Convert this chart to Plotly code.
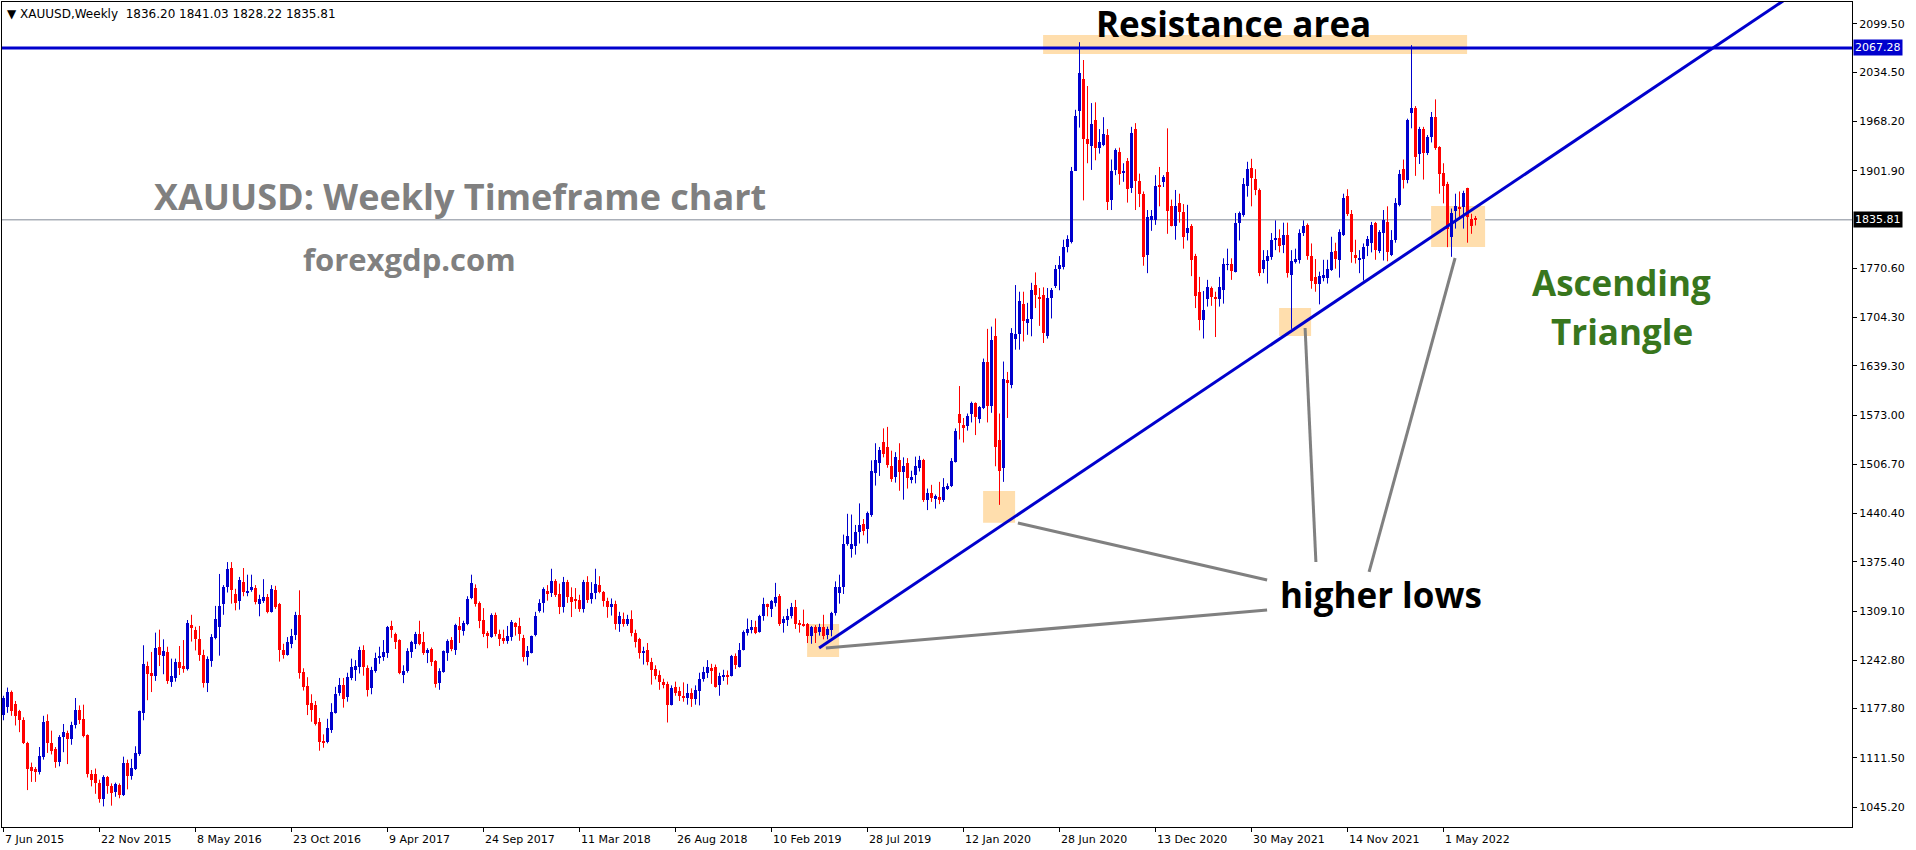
import plotly.graph_objects as go

# ---------------- data (weekly XAUUSD candles) ----------------
opens = [
1169,1180,1200,1184,1174,1162,1132,1099,1096,1093,1113,1161,1132,1123,1106,1139,1145,1137,1155,1176,
1164,1142,1090,1089,1077,1056,1086,1074,1065,1075,1061,1105,1087,1096,1117,1172,1235,1226,1222,1261,
1249,1254,1214,1219,1240,1235,1231,1290,1284,1271,1250,1212,1242,1273,1288,1319,1341,1367,1332,1322,
1348,1334,1337,1340,1319,1323,1328,1308,1337,1319,1257,1250,1265,1277,1304,1227,1208,1185,1183,1160,
1134,1133,1149,1172,1199,1209,1193,1219,1230,1234,1257,1232,1205,1228,1247,1247,1253,1289,1278,1270,
1223,1228,1254,1265,1278,1267,1253,1258,1242,1212,1227,1253,1270,1257,1289,1282,1292,1326,1340,1320,
1297,1280,1274,1304,1278,1273,1269,1274,1293,1289,1273,1247,1253,1277,1309,1320,1336,1333,1350,1332,
1315,1348,1328,1324,1324,1312,1348,1325,1333,1344,1335,1323,1314,1319,1291,1299,1292,1299,1279,1272,
1252,1256,1241,1231,1223,1214,1211,1183,1207,1201,1195,1192,1199,1191,1202,1217,1226,1233,1234,1209,
1221,1223,1222,1249,1234,1257,1279,1284,1288,1281,1302,1318,1312,1320,1330,1293,1297,1302,1314,1292,
1292,1292,1275,1287,1281,1288,1277,1283,1306,1334,1341,1400,1393,1397,1416,1426,1420,1439,1495,1509,
1537,1530,1504,1490,1512,1496,1508,1486,1492,1501,1512,1459,1468,1460,1463,1459,1474,1477,1510,1575,
1560,1558,1575,1589,1568,1582,1645,1585,1680,1540,1502,1620,1613,1676,1682,1722,1697,1702,1748,1732,
1735,1679,1730,1747,1769,1772,1799,1806,1902,1983,2026,1944,1935,1970,1932,1937,1950,1862,1903,1927,
1899,1915,1879,1958,1888,1871,1788,1836,1836,1883,1887,1900,1854,1828,1859,1847,1818,1827,1787,1738,
1701,1729,1744,1732,1729,1741,1775,1777,1766,1832,1842,1881,1905,1891,1876,1769,1780,1786,1808,1811,
1802,1815,1761,1779,1782,1818,1829,1787,1759,1749,1757,1757,1768,1794,1782,1815,1868,1844,1788,1783,
1783,1801,1804,1831,1794,1818,1833,1788,1808,1856,1904,1890,1979,1986,1924,1958,1926,1948,1974,1934,
1899,1884,1813,1848,1853,1853,1878,1837,1836.20]
highs = [
1195,1206,1202,1188,1176,1166,1133,1105,1099,1126,1168,1170,1148,1126,1142,1157,1148,1160,1192,1182,
1183,1143,1095,1097,1082,1088,1087,1077,1078,1077,1113,1109,1110,1127,1175,1263,1241,1254,1280,1284,
1271,1261,1245,1245,1262,1270,1297,1304,1288,1289,1257,1248,1278,1316,1359,1344,1375,1375,1339,1355,
1367,1358,1358,1344,1331,1352,1332,1344,1343,1320,1265,1274,1285,1308,1337,1232,1220,1197,1188,1165,
1143,1164,1185,1207,1219,1219,1226,1245,1243,1261,1263,1236,1234,1253,1261,1270,1289,1296,1280,1271,
1236,1259,1269,1281,1296,1281,1259,1260,1243,1232,1256,1271,1274,1292,1301,1296,1329,1358,1345,1322,
1313,1282,1306,1307,1284,1284,1289,1297,1294,1300,1277,1262,1276,1308,1325,1341,1344,1366,1352,1346,
1355,1351,1341,1340,1331,1351,1356,1348,1366,1356,1336,1327,1326,1323,1308,1307,1304,1310,1284,1273,
1261,1266,1246,1236,1229,1218,1214,1209,1214,1207,1213,1211,1205,1209,1226,1234,1243,1238,1237,1226,
1230,1229,1250,1252,1266,1283,1299,1297,1296,1304,1327,1319,1324,1347,1332,1302,1312,1320,1324,1297,
1311,1293,1289,1290,1292,1304,1288,1308,1349,1358,1412,1440,1439,1425,1454,1433,1443,1512,1535,1530,
1555,1557,1525,1523,1535,1516,1515,1498,1517,1518,1514,1474,1479,1466,1483,1488,1481,1515,1555,1612,
1569,1575,1591,1590,1585,1649,1689,1692,1703,1575,1645,1631,1690,1748,1739,1739,1724,1751,1765,1744,
1745,1744,1744,1775,1787,1809,1815,1907,1984,2075,2051,2016,1993,1994,1958,1974,1958,1917,1932,1933,
1912,1919,1961,1966,1898,1874,1849,1849,1896,1907,1896,1959,1863,1876,1871,1857,1856,1830,1790,1759,
1740,1755,1746,1739,1759,1784,1797,1784,1845,1847,1892,1914,1918,1904,1878,1795,1795,1818,1835,1823,
1832,1832,1795,1797,1823,1835,1831,1804,1783,1766,1782,1782,1813,1805,1823,1871,1877,1849,1809,1795,
1804,1814,1833,1833,1822,1849,1854,1822,1865,1903,1917,1972,2071,1989,1961,1961,1950,1981,1998,1935,
1912,1887,1851,1871,1874,1875,1879,1844,1841.03]
lows = [
1162,1172,1168,1155,1146,1130,1068,1079,1079,1089,1109,1118,1116,1098,1100,1119,1103,1129,1151,1157,
1139,1085,1073,1063,1051,1046,1063,1047,1059,1057,1060,1069,1082,1095,1114,1162,1189,1200,1215,1235,
1224,1211,1207,1214,1223,1226,1229,1268,1256,1242,1206,1200,1234,1271,1249,1304,1334,1319,1310,1311,
1329,1329,1335,1318,1302,1320,1306,1307,1312,1241,1245,1249,1259,1270,1218,1202,1169,1160,1155,1121,
1125,1131,1145,1171,1195,1179,1187,1216,1215,1225,1222,1194,1197,1226,1238,1242,1246,1273,1258,1224,
1212,1226,1246,1258,1263,1250,1239,1235,1206,1203,1226,1242,1255,1250,1266,1276,1290,1325,1315,1286,
1274,1259,1273,1275,1262,1265,1265,1269,1276,1269,1241,1236,1252,1275,1307,1307,1323,1328,1328,1305,
1307,1320,1301,1312,1308,1307,1320,1319,1325,1333,1315,1300,1303,1284,1281,1288,1289,1275,1260,1245,
1237,1236,1210,1217,1203,1205,1159,1182,1195,1188,1187,1183,1180,1183,1182,1214,1219,1211,1206,1195,
1215,1210,1221,1231,1233,1256,1276,1279,1278,1280,1296,1302,1301,1315,1289,1280,1289,1299,1285,1280,
1288,1266,1265,1266,1276,1271,1271,1275,1303,1319,1332,1397,1381,1385,1400,1411,1400,1436,1478,1491,
1516,1502,1483,1482,1471,1459,1474,1481,1481,1497,1456,1445,1456,1447,1453,1456,1472,1476,1509,1540,
1536,1552,1563,1546,1562,1581,1563,1576,1504,1452,1483,1569,1609,1661,1661,1672,1681,1679,1717,1693,
1670,1676,1703,1744,1741,1769,1792,1804,1902,1960,1862,1912,1903,1916,1925,1935,1849,1849,1896,1883,
1887,1859,1872,1849,1853,1774,1764,1821,1829,1854,1880,1817,1827,1809,1832,1797,1808,1760,1717,1687,
1676,1719,1720,1678,1719,1723,1768,1755,1765,1808,1840,1867,1854,1869,1760,1764,1750,1782,1795,1792,
1791,1758,1689,1777,1777,1814,1782,1743,1739,1722,1753,1750,1767,1770,1758,1814,1841,1778,1777,1764,
1754,1787,1792,1782,1791,1781,1780,1787,1805,1854,1878,1885,1959,1895,1911,1890,1923,1940,1930,1871,
1858,1799,1786,1824,1836,1824,1805,1817,1828.22]
closes = [
1192,1200,1174,1168,1162,1132,1096,1094,1092,1114,1160,1132,1120,1106,1139,1146,1137,1155,1176,1162,
1141,1089,1082,1077,1056,1086,1073,1064,1076,1061,1105,1087,1098,1118,1174,1238,1224,1222,1259,1250,
1255,1215,1222,1240,1232,1231,1293,1286,1271,1250,1212,1245,1274,1298,1316,1342,1366,1337,1320,1351,
1335,1336,1341,1321,1325,1328,1308,1339,1315,1256,1250,1267,1275,1304,1226,1207,1183,1176,1157,1133,
1132,1152,1173,1197,1209,1190,1220,1234,1235,1257,1234,1203,1230,1246,1249,1254,1288,1284,1267,1226,
1228,1255,1267,1278,1265,1253,1257,1240,1211,1228,1255,1269,1258,1290,1284,1293,1325,1347,1319,1296,
1278,1276,1304,1278,1271,1269,1275,1294,1288,1278,1247,1255,1275,1302,1320,1339,1332,1350,1331,1315,
1348,1328,1321,1323,1312,1348,1324,1333,1345,1335,1322,1314,1319,1292,1302,1291,1299,1280,1268,1252,
1255,1240,1230,1222,1213,1210,1183,1206,1199,1195,1192,1199,1191,1203,1218,1227,1234,1229,1207,1222,
1223,1221,1249,1237,1256,1281,1285,1288,1280,1303,1318,1314,1322,1328,1292,1299,1303,1314,1291,1291,
1289,1275,1287,1279,1287,1275,1285,1306,1341,1342,1399,1410,1399,1416,1425,1417,1441,1498,1512,1526,
1520,1506,1487,1517,1496,1504,1488,1490,1504,1513,1459,1468,1461,1464,1459,1476,1477,1511,1552,1562,
1556,1572,1589,1570,1584,1645,1585,1674,1530,1498,1622,1616,1683,1682,1727,1699,1702,1742,1735,1730,
1684,1731,1742,1769,1775,1799,1810,1901,1976,2034,1944,1938,1965,1933,1941,1951,1860,1902,1930,1898,
1902,1877,1953,1888,1871,1786,1839,1841,1882,1880,1894,1848,1828,1855,1847,1813,1825,1782,1733,1701,
1714,1745,1732,1729,1745,1777,1776,1767,1832,1845,1884,1904,1892,1876,1764,1782,1787,1809,1811,1801,
1815,1764,1781,1783,1818,1828,1787,1754,1749,1760,1762,1769,1793,1783,1819,1865,1844,1792,1784,1784,
1799,1810,1829,1795,1819,1835,1792,1809,1859,1898,1889,1970,1986,1921,1958,1926,1948,1974,1932,1897,
1882,1824,1845,1855,1851,1872,1840,1827,1835.81]

date_labels = ["7 Jun 2015", "22 Nov 2015", "8 May 2016", "23 Oct 2016", "9 Apr 2017",
               "24 Sep 2017", "11 Mar 2018", "26 Aug 2018", "10 Feb 2019", "28 Jul 2019",
               "12 Jan 2020", "28 Jun 2020", "13 Dec 2020", "30 May 2021", "14 Nov 2021",
               "1 May 2022"]
date_label_step = 24  # weeks between date labels

price_ticks = [2099.50, 2034.50, 1968.20, 1901.90, 1770.60, 1704.30, 1639.30, 1573.00,
               1506.70, 1440.40, 1375.40, 1309.10, 1242.80, 1177.80, 1111.50, 1045.20]

symbol_header = "XAUUSD,Weekly  1836.20 1841.03 1828.22 1835.81"
resistance_level = 2067.28
last_price = 1835.81

# drawing objects (week index, price)
trend_anchor_a = (203.9, 1259.3)
trend_anchor_b = (370.4, 1861.2)
zones = [  # (week from, week to, price low, price high)
    (259.9, 365.9, 2059.1, 2084.7),
    (244.9, 252.9, 1428.0, 1470.7),
    (200.9, 208.9, 1247.2, 1291.6),
    (318.9, 326.9, 1679.4, 1717.1),
    (356.9, 370.4, 1799.2, 1854.4),
]
pointer_lines = [  # (week0, price0, week1, price1)
    (205.6, 1259.3, 315.9, 1310.5),
    (253.6, 1427.6, 315.9, 1350.9),
    (325.4, 1690.2, 328.1, 1375.1),
    (362.9, 1784.4, 341.4, 1361.7),
]

# ---------------- style ----------------
BULL = "rgb(0,0,205)"
BEAR = "rgb(255,0,0)"
ZONE = "rgb(255,222,173)"
GRAY = "rgb(128,128,128)"
GREEN = "rgb(56,118,29)"
W, H = 1916, 850
ML, MR, MT, MB = 2, 64, 2, 23
X0 = -0.375
X1 = X0 + (W - ML - MR) / 4.0
Y0, Y1 = 1018.3, 2129.1
TICKFONT = dict(family="DejaVu Sans", size=11, color="black")

n = len(closes)
idx = list(range(n))

fig = go.Figure()

for up, color in ((True, BULL), (False, BEAR)):
    sel = [i for i in idx if (closes[i] >= opens[i]) == up]
    wx, wy = [], []
    for i in sel:
        wx += [i, i, None]
        wy += [lows[i], highs[i], None]
    fig.add_trace(go.Scatter(x=wx, y=wy, mode="lines", line=dict(color=color, width=1),
                             hoverinfo="skip", showlegend=False))
    fig.add_trace(go.Bar(
        x=sel,
        y=[max(abs(closes[i] - opens[i]), 1.2) for i in sel],
        base=[min(opens[i], closes[i]) for i in sel],
        width=0.75, marker=dict(color=color, line=dict(width=0)),
        showlegend=False, hoverinfo="skip"))

# trend line (ray extended past the right edge, clipped by the plot area)
slope = (trend_anchor_b[1] - trend_anchor_a[1]) / (trend_anchor_b[0] - trend_anchor_a[0])
x_end = X1 + 5
fig.add_trace(go.Scatter(x=[trend_anchor_a[0], x_end],
                         y=[trend_anchor_a[1], trend_anchor_a[1] + slope * (x_end - trend_anchor_a[0])],
                         mode="lines", line=dict(color=BULL, width=3), hoverinfo="skip", showlegend=False))

for (a0, p0, a1, p1) in pointer_lines:
    fig.add_trace(go.Scatter(x=[a0, a1], y=[p0, p1], mode="lines",
                             line=dict(color=GRAY, width=3), hoverinfo="skip", showlegend=False))

shapes = []
for (a0, a1, p0, p1) in zones:
    shapes.append(dict(type="rect", xref="x", yref="y", x0=a0, x1=a1, y0=p0, y1=p1,
                       fillcolor=ZONE, line=dict(width=0), layer="below"))
shapes.append(dict(type="line", xref="paper", yref="y", x0=0, x1=1, y0=last_price, y1=last_price,
                   line=dict(color="rgb(128,136,150)", width=1), layer="below"))
shapes.append(dict(type="line", xref="paper", yref="y", x0=0, x1=1, y0=resistance_level,
                   y1=resistance_level, line=dict(color=BULL, width=3), layer="above"))

annotations = []
annotations.append(dict(xref="paper", yref="paper", x=0, y=1, xanchor="left", yanchor="top",
                        xshift=3, yshift=-3, showarrow=False,
                        text="\u25BC " + symbol_header,
                        font=dict(family="DejaVu Sans", size=12, color="black")))
for val, bg in ((resistance_level, BULL), (last_price, "black")):
    annotations.append(dict(xref="paper", yref="y", x=1, y=val, xanchor="left", yanchor="middle",
                            xshift=1, showarrow=False, text=f"{val:.2f}", bgcolor=bg,
                            borderpad=1, font=dict(family="DejaVu Sans", size=11, color="white")))
for k, lab in enumerate(date_labels):
    annotations.append(dict(xref="x", yref="paper", x=k * date_label_step, y=0,
                            xanchor="left", yanchor="top", yshift=-4, xshift=-1,
                            showarrow=False, text=lab, font=TICKFONT))

BIG = "Open Sans"
big_texts = [
    dict(x=307.4, y=2100.8, text="<b>Resistance area</b>", font=dict(family=BIG, size=35, color="black")),
    dict(x=114.1, y=1866.6, text="<b>XAUUSD: Weekly Timeframe chart</b>", font=dict(family=BIG, size=36, color=GRAY)),
    dict(x=101.4, y=1783.1, text="<b>forexgdp.com</b>", font=dict(family=BIG, size=31, color=GRAY)),
    dict(x=404.6, y=1752.1, text="<b>Ascending</b>", font=dict(family=BIG, size=35, color=GREEN)),
    dict(x=404.6, y=1684.8, text="<b>Triangle</b>", font=dict(family=BIG, size=35, color=GREEN)),
    dict(x=344.4, y=1330.7, text="<b>higher lows</b>", font=dict(family=BIG, size=35, color="black")),
]
for a in big_texts:
    a.update(xref="x", yref="y", showarrow=False, xanchor="center", yanchor="middle", borderpad=0)
annotations += big_texts

fig.update_layout(
    width=W, height=H, margin=dict(l=ML, r=MR, t=MT, b=MB, pad=0),
    paper_bgcolor="white", plot_bgcolor="white",
    barmode="overlay", bargap=0, showlegend=False,
    shapes=shapes, annotations=annotations,
    xaxis=dict(range=[X0, X1], showgrid=False, zeroline=False, showline=True, linecolor="black",
               linewidth=1, mirror=True, ticks="outside", ticklen=4, tickcolor="black",
               tickvals=[k * date_label_step for k in range(len(date_labels))],
               showticklabels=False, fixedrange=True),
    yaxis=dict(range=[Y0, Y1], side="right", showgrid=False, zeroline=False, showline=True,
               linecolor="black", linewidth=1, mirror=True, ticks="outside", ticklen=4,
               tickcolor="black", tickvals=price_ticks, ticktext=[f"{v:.2f}" for v in price_ticks],
               tickfont=TICKFONT, fixedrange=True),
)

fig.write_html("out.html", config={"displayModeBar": False})
